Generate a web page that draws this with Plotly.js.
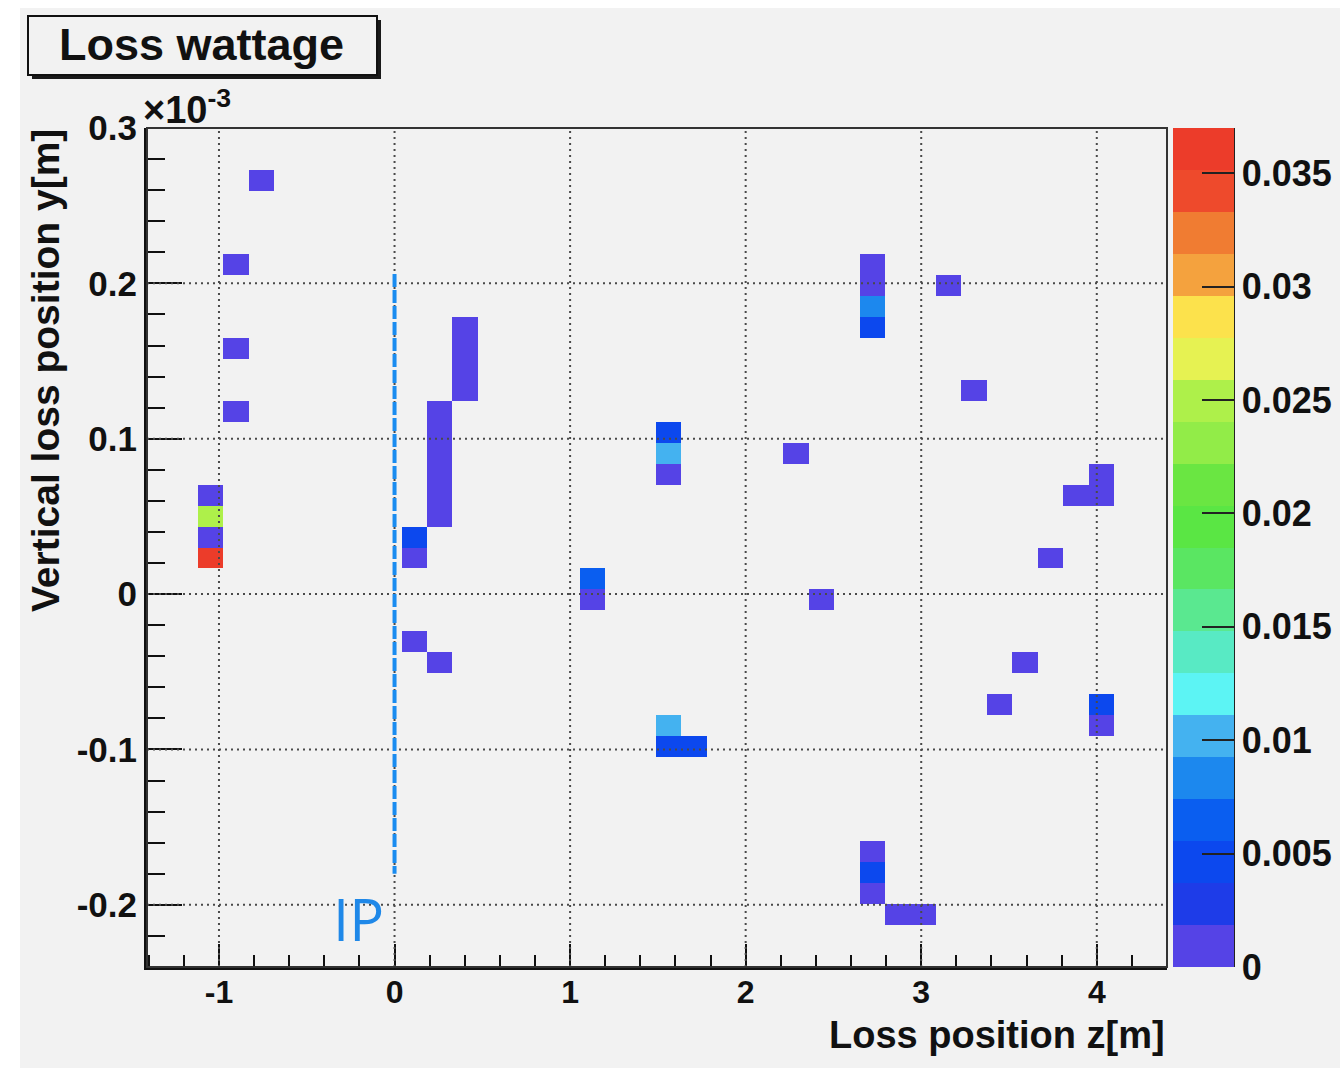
<!DOCTYPE html>
<html>
<head>
<meta charset="utf-8">
<script src="https://cdn.plot.ly/plotly-3.0.1.min.js"></script>
<style>
  html, body { margin: 0; padding: 0; background: #ffffff; width: 1340px; height: 1068px; overflow: hidden; }
  #chart { position: absolute; left: 20px; top: 8px; width: 1320px; height: 1060px; }
</style>
</head>
<body>
<div id="chart"></div>
<script>
// ---- Histogram binning: 40 x 40 bins ----
const zBinCount = 40, zBinLow = -1.41, zBinWidth = 0.145;     // loss position z [m]
const yBinCount = 40, yBinLow = -0.24, yBinWidth = 0.0135;    // vertical position y [1e-3 m]

// ---- Filled bins: centre z [m], centre y [1e-3 m], loss wattage ----
const lossZ = [
  -1.048, -1.048, -1.048, -1.048,
  -0.903, -0.903, -0.903, -0.758,
   0.113,  0.113,  0.113,
   0.258,  0.258,  0.258,  0.258,  0.258,  0.258,  0.258,
   0.403,  0.403,  0.403,  0.403,
   1.128,  1.128,
   1.563,  1.563,  1.563,  1.563,  1.563,  1.708,
   2.288,  2.433,
   2.723,  2.723,  2.723,  2.723,  2.723,  2.723,  2.723,
   2.868,  3.013,  3.158,  3.303,  3.448,  3.593,  3.738,  3.883,
   4.028,  4.028,  4.028,  4.028
];
const lossY = [
   0.023,  0.037,  0.050,  0.064,
   0.118,  0.158,  0.212,  0.266,
   0.023,  0.037, -0.031,
  -0.044,  0.050,  0.064,  0.077,  0.091,  0.104,  0.118,
   0.131,  0.145,  0.158,  0.172,
  -0.004,  0.010,
   0.077,  0.091,  0.104, -0.085, -0.098, -0.098,
   0.091, -0.004,
   0.172,  0.185,  0.199,  0.212, -0.166, -0.179, -0.193,
  -0.206, -0.206,  0.199,  0.131, -0.071, -0.044,  0.023,  0.064,
   0.064,  0.077, -0.071, -0.085
];
const lossW = [
  0.0369, 0.0011, 0.0250, 0.0010,
  0.0009, 0.0012, 0.0010, 0.0011,
  0.0013, 0.0046, 0.0010,
  0.0009, 0.0011, 0.0012, 0.0010, 0.0013, 0.0011, 0.0010,
  0.0012, 0.0010, 0.0011, 0.0013,
  0.0012, 0.0063,
  0.0011, 0.0102, 0.0050, 0.0101, 0.0048, 0.0047,
  0.0010, 0.0012,
  0.0050, 0.0078, 0.0012, 0.0010, 0.0011, 0.0049, 0.0013,
  0.0010, 0.0011, 0.0012, 0.0010, 0.0011, 0.0010, 0.0012, 0.0010,
  0.0011, 0.0013, 0.0050, 0.0012
];

// ---- Axis ticks ----
const zTickVals = [-1, 0, 1, 2, 3, 4];
const zTickText = ['-1', '0', '1', '2', '3', '4'];
const yTickVals = [-0.2, -0.1, 0, 0.1, 0.2, 0.3];
const yTickText = ['-0.2', '-0.1', '0', '0.1', '0.2', '0.3'];
const wTickVals = [0, 0.005, 0.01, 0.015, 0.02, 0.025, 0.03, 0.035];
const wTickText = ['0', '0.005', '0.01', '0.015', '0.02', '0.025', '0.03', '0.035'];
const wMax = 0.037;

// 20-level rainbow palette, lowest level first
const palette = [
  '#5543e6', '#1e3ce8', '#0c48ee', '#0a5ef0', '#1c88ee',
  '#44b2f0', '#5cf4f4', '#58eac4', '#5ae890', '#5ae662',
  '#5ae644', '#6ae642', '#92ec48', '#aef04a', '#e6f252',
  '#fce24c', '#f4a23e', '#f07c32', '#ee4a2c', '#ec3c2a'
];

// ---- Build bin edges and the z grid ----
const zEdges = [], yEdges = [];
for (let i = 0; i <= zBinCount; i++) zEdges.push(zBinLow + i * zBinWidth);
for (let j = 0; j <= yBinCount; j++) yEdges.push(yBinLow + j * yBinWidth);
const grid = [];
for (let j = 0; j < yBinCount; j++) grid.push(new Array(zBinCount).fill(null));
lossZ.forEach((z, k) => {
  const i = Math.floor((z - zBinLow) / zBinWidth);
  const j = Math.floor((lossY[k] - yBinLow) / yBinWidth);
  grid[j][i] = lossW[k];
});

// stepped colour scale (one flat band per contour level)
const colorscale = [];
palette.forEach((c, k) => {
  colorscale.push([k / palette.length, c]);
  colorscale.push([(k + 1) / palette.length, c]);
});

// ---- Page-pixel helpers for the frame (plot area 147..1167 x 128..967) ----
const FL = 147, FR = 1167, FT = 128, FB = 967;
const px = x => (x - FL) / (FR - FL);
const py = y => (FB - y) / (FB - FT);

const FONT = '"Liberation Sans", Arial, Helvetica, sans-serif';
const INK = '#111111';
const BG = '#f2f2f2';

const trace = {
  type: 'heatmap',
  x: zEdges,
  y: yEdges,
  z: grid,
  zmin: 0,
  zmax: wMax,
  zsmooth: false,
  colorscale: colorscale,
  hoverinfo: 'skip',
  colorbar: {
    x: px(1173), xanchor: 'left', xpad: 0,
    y: 0.5, yanchor: 'middle', ypad: 0,
    len: 1, lenmode: 'fraction',
    thickness: 61, thicknessmode: 'pixels',
    outlinewidth: 0,
    tickmode: 'array', tickvals: wTickVals, ticktext: wTickText,
    ticks: 'inside', ticklen: 32, tickwidth: 2, tickcolor: '#222222',
    tickfont: { family: FONT, size: 36, color: INK, weight: 'bold' }
  }
};

const shapes = [];
// dotted grid on top of the cells
zTickVals.forEach(v => shapes.push({
  type: 'line', xref: 'x', yref: 'paper', x0: v, x1: v, y0: 0, y1: 1,
  line: { color: '#4a4a4a', width: 2, dash: '2px,4px' }, layer: 'above'
}));
yTickVals.filter(v => v < 0.29).forEach(v => shapes.push({
  type: 'line', xref: 'paper', yref: 'y', x0: 0, x1: 1, y0: v, y1: v,
  line: { color: '#4a4a4a', width: 2, dash: '2px,4px' }, layer: 'above'
}));
// interaction point marker
shapes.push({
  type: 'line', xref: 'x', yref: 'y', x0: 0, x1: 0, y0: 0.206, y1: -0.180,
  line: { color: '#1a8cf0', width: 4, dash: '13px,3px' }, layer: 'above'
});
// frame (top / right)
shapes.push({
  type: 'rect', xref: 'paper', yref: 'paper', x0: 0, x1: 1, y0: 0, y1: 1,
  line: { color: '#333333', width: 2 }, fillcolor: 'rgba(0,0,0,0)', layer: 'above'
});
// colour bar axis line
shapes.push({
  type: 'line', xref: 'paper', yref: 'paper', x0: px(1234), x1: px(1234), y0: 0, y1: 1,
  line: { color: '#222222', width: 2 }, layer: 'above'
});
// title pave with shadow
shapes.push({
  type: 'rect', xref: 'paper', yref: 'paper',
  x0: px(32), x1: px(381), y0: py(20), y1: py(79),
  line: { width: 0 }, fillcolor: '#1a1a1a', layer: 'above'
});
shapes.push({
  type: 'rect', xref: 'paper', yref: 'paper',
  x0: px(28), x1: px(377), y0: py(16), y1: py(75),
  line: { color: INK, width: 2 }, fillcolor: BG, layer: 'above'
});

const annotations = [
  { text: 'Loss wattage', xref: 'paper', yref: 'paper', x: px(201), y: py(44),
    xanchor: 'center', yanchor: 'middle', showarrow: false,
    font: { family: FONT, size: 45, color: INK, weight: 'bold' } },
  { text: '×10<sup>-3</sup>', xref: 'paper', yref: 'paper', x: px(141), y: py(133),
    xanchor: 'left', yanchor: 'bottom', showarrow: false,
    font: { family: FONT, size: 38, color: INK, weight: 'bold' } },
  { text: 'Vertical loss position y[m]', xref: 'paper', yref: 'paper', x: px(45), y: py(371),
    xanchor: 'center', yanchor: 'middle', textangle: -90, showarrow: false,
    font: { family: FONT, size: 39, color: INK, weight: 'bold' } },
  { text: 'Loss position z[m]', xref: 'paper', yref: 'paper', x: 1, y: py(1035),
    xanchor: 'right', yanchor: 'middle', showarrow: false,
    font: { family: FONT, size: 38, color: INK, weight: 'bold' } },
  { text: 'IP', xref: 'paper', yref: 'paper', x: px(358), y: py(918),
    xanchor: 'center', yanchor: 'middle', showarrow: false,
    font: { family: '"Open Sans", "Noto Sans", sans-serif', size: 58, color: '#1f88e8' } }
];

const layout = {
  width: 1320, height: 1060,
  margin: { l: FL - 20, r: 20 + 1320 - FR, t: FT - 8, b: 8 + 1060 - FB, pad: 0, autoexpand: false },
  paper_bgcolor: BG,
  plot_bgcolor: BG,
  showlegend: false,
  xaxis: {
    range: [zBinLow, 4.40],
    tickmode: 'array', tickvals: zTickVals, ticktext: zTickText,
    ticks: 'inside', ticklen: 23, tickwidth: 2, tickcolor: INK,
    minor: { dtick: 0.2, tick0: 0, ticks: 'inside', ticklen: 12, tickwidth: 2, tickcolor: INK, showgrid: false },
    showgrid: false, zeroline: false,
    showline: true, linecolor: INK, linewidth: 3, mirror: false,
    tickfont: { family: FONT, size: 32, color: INK, weight: 'bold' },
    ticklabelstandoff: -5,
    fixedrange: true
  },
  yaxis: {
    range: [yBinLow, 0.30],
    tickmode: 'array', tickvals: yTickVals, ticktext: yTickText,
    ticks: 'inside', ticklen: 35, tickwidth: 2, tickcolor: INK,
    minor: { dtick: 0.02, tick0: 0, ticks: 'inside', ticklen: 18, tickwidth: 2, tickcolor: INK, showgrid: false },
    showgrid: false, zeroline: false,
    showline: true, linecolor: INK, linewidth: 3, mirror: false,
    tickfont: { family: FONT, size: 35, color: INK, weight: 'bold' },
    ticklabelstandoff: 0,
    fixedrange: true
  },
  shapes: shapes,
  annotations: annotations
};

Plotly.newPlot('chart', [trace], layout, { displayModeBar: false, staticPlot: true });
</script>
</body>
</html>
